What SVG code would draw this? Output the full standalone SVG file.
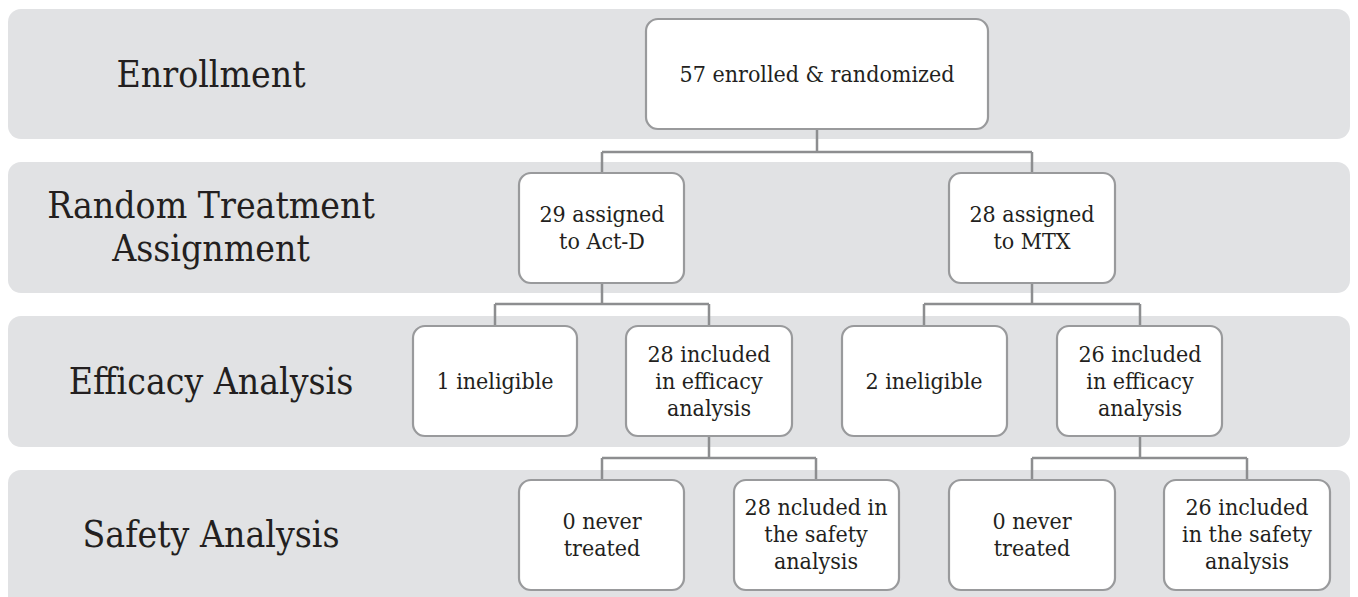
<svg xmlns="http://www.w3.org/2000/svg" width="1358" height="597" viewBox="0 0 1358 597">
<style>
.band{fill:#e1e2e4}
.box{fill:#ffffff;stroke:#999a9c;stroke-width:2.2}
.lbl{font-family:'DejaVu Serif Condensed','DejaVu Serif','Liberation Serif',serif;font-size:37px;fill:#231f20;text-anchor:middle}
.t{font-family:'DejaVu Serif Condensed','DejaVu Serif','Liberation Serif',serif;font-size:23px;fill:#231f20;text-anchor:middle}
.conn{fill:none;stroke:#8d8e90;stroke-width:2.5}
</style>
<rect width="1358" height="597" fill="#ffffff"/>
<g id="bands">
<rect class="band" x="8" y="9" width="1342" height="130" rx="13"/>
<rect class="band" x="8" y="162" width="1342" height="131" rx="13"/>
<rect class="band" x="8" y="316" width="1342" height="131" rx="13"/>
<rect class="band" x="8" y="470" width="1342" height="140" rx="13"/>
</g>
<g id="stage-labels">
<text class="lbl" x="211" y="87">Enrollment</text>
<text class="lbl" x="211" y="218">Random Treatment</text>
<text class="lbl" x="211" y="261">Assignment</text>
<text class="lbl" x="211" y="394">Efficacy Analysis</text>
<text class="lbl" x="211" y="547">Safety Analysis</text>
</g>
<g id="connectors">
<path class="conn" d="M817 129 V152 M602 152 H1032 M602 152 V173 M1032 152 V173"/>
<path class="conn" d="M602 283 V304 M495 304 H709 M495 304 V326 M709 304 V326"/>
<path class="conn" d="M1032 283 V304 M924 304 H1140 M924 304 V326 M1140 304 V326"/>
<path class="conn" d="M709 436 V458 M602 458 H816 M602 458 V480 M816 458 V480"/>
<path class="conn" d="M1140 436 V458 M1032 458 H1247 M1032 458 V480 M1247 458 V480"/>
</g>
<g id="n-enrolled">
<rect class="box" x="646" y="19" width="342" height="110" rx="12"/>
<text class="t" x="817" y="82">57 enrolled &amp; randomized</text>
</g>
<g id="n-actd">
<rect class="box" x="519" y="173" width="165" height="110" rx="12"/>
<text class="t" x="602" y="222">29 assigned</text>
<text class="t" x="602" y="249">to Act-D</text>
</g>
<g id="n-mtx">
<rect class="box" x="949" y="173" width="166" height="110" rx="12"/>
<text class="t" x="1032" y="222">28 assigned</text>
<text class="t" x="1032" y="249">to MTX</text>
</g>
<g id="n-inel1">
<rect class="box" x="413" y="326" width="164" height="110" rx="12"/>
<text class="t" x="495" y="389">1 ineligible</text>
</g>
<g id="n-eff1">
<rect class="box" x="626" y="326" width="166" height="110" rx="12"/>
<text class="t" x="709" y="362">28 included</text>
<text class="t" x="709" y="389">in efficacy</text>
<text class="t" x="709" y="416">analysis</text>
</g>
<g id="n-inel2">
<rect class="box" x="842" y="326" width="165" height="110" rx="12"/>
<text class="t" x="924" y="389">2 ineligible</text>
</g>
<g id="n-eff2">
<rect class="box" x="1057" y="326" width="165" height="110" rx="12"/>
<text class="t" x="1140" y="362">26 included</text>
<text class="t" x="1140" y="389">in efficacy</text>
<text class="t" x="1140" y="416">analysis</text>
</g>
<g id="n-never1">
<rect class="box" x="519" y="480" width="165" height="110" rx="12"/>
<text class="t" x="602" y="529">0 never</text>
<text class="t" x="602" y="556">treated</text>
</g>
<g id="n-safe1">
<rect class="box" x="734" y="480" width="165" height="110" rx="12"/>
<text class="t" x="816" y="515">28 ncluded in</text>
<text class="t" x="816" y="542">the safety</text>
<text class="t" x="816" y="569">analysis</text>
</g>
<g id="n-never2">
<rect class="box" x="949" y="480" width="166" height="110" rx="12"/>
<text class="t" x="1032" y="529">0 never</text>
<text class="t" x="1032" y="556">treated</text>
</g>
<g id="n-safe2">
<rect class="box" x="1164" y="480" width="166" height="110" rx="12"/>
<text class="t" x="1247" y="515">26 included</text>
<text class="t" x="1247" y="542">in the safety</text>
<text class="t" x="1247" y="569">analysis</text>
</g>
</svg>
